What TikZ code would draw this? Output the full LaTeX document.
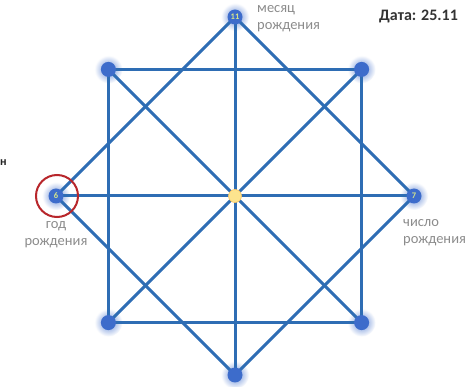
\documentclass[tikz,border=0pt]{standalone}
\usepackage{fontspec}
\setmainfont{Carlito}
\pgfdeclarelayer{glowlayer}
\pgfdeclarelayer{linelayer}
\pgfsetlayers{glowlayer,linelayer,main}
\definecolor{linec}{HTML}{2E6DB4}
\definecolor{dotc}{HTML}{3D6CCB}
\definecolor{numc}{HTML}{D6E68A}
\definecolor{ctrc}{HTML}{FCE48E}
\definecolor{ringc}{HTML}{B8262B}
\definecolor{labc}{HTML}{8C8C8C}
\begin{document}
\begin{tikzpicture}[x=1pt,y=-1pt,
  dot/.style={circle,fill=dotc,minimum size=15pt,inner sep=0pt,font=\fontsize{8.5}{8.5}\selectfont\bfseries,text=numc},
  ctr/.style={circle,fill=ctrc,draw=ctrc!70!orange,line width=0.6pt,minimum size=13pt,inner sep=0pt},
  conn/.style={draw=linec,line width=3pt},
  lab/.style={font=\fontsize{14.5}{17}\selectfont,text=labc,inner sep=0pt},
  ring/.style={circle,draw=ringc,line width=2pt,minimum size=42pt,inner sep=0pt}]
\begin{pgfonlayer}{glowlayer}
\fill[white] (0,0) rectangle (469,387);
\end{pgfonlayer}
\useasboundingbox (0,0) rectangle (469,387);
% nodes
\node[dot] (t) at (235,17) {11};
\node[dot] (b) at (235,375) {};
\node[dot] (l) at (56,196) {6};
\node[dot] (r) at (414,196) {7};
\node[dot] (tl) at (108.4,69.4) {};
\node[dot] (tr) at (361.6,69.4) {};
\node[dot] (bl) at (108.4,322.6) {};
\node[dot] (br) at (361.6,322.6) {};
\node[ctr] (c) at (235,196) {};
% glow
\begin{pgfonlayer}{glowlayer}
\foreach \n in {t,b,l,r,tl,tr,bl,br}{
  \shade[inner color=dotc!80, outer color=white] (\n.center) circle (14pt);
}
\end{pgfonlayer}
% connectors
\begin{pgfonlayer}{linelayer}
\draw[conn] (tl.center) -- (tr.center) -- (br.center) -- (bl.center) -- cycle;
\draw[conn] (t.center) -- (r.center) -- (b.center) -- (l.center) -- cycle;
\draw[conn] (tl.center) -- (c.center) -- (br.center);
\draw[conn] (tr.center) -- (c.center) -- (bl.center);
\draw[conn] (t.center) -- (c.center) -- (b.center);
\draw[conn] (l.center) -- (c.center) -- (r.center);
\end{pgfonlayer}
% ring
\node[ring] (ringl) at (57,196) {};
% labels
\node[lab,anchor=north west,align=left] (m) at (257,5) {месяц\\рождения};
\node[lab,anchor=north,align=center] (g) at (56,221) {год\\рождения};
\node[lab,anchor=north west,align=left] (ch) at (403,219) {число\\рождения};
\node[anchor=west,inner sep=0pt,font=\fontsize{16}{18}\selectfont\bfseries,text=black!80] (d) at (379,16) {Дата: 25.11};
\node[anchor=west,inner sep=0pt,font=\fontsize{12}{14}\selectfont\bfseries,text=black!85] (x) at (0,163) {н};
\end{tikzpicture}
\end{document}
